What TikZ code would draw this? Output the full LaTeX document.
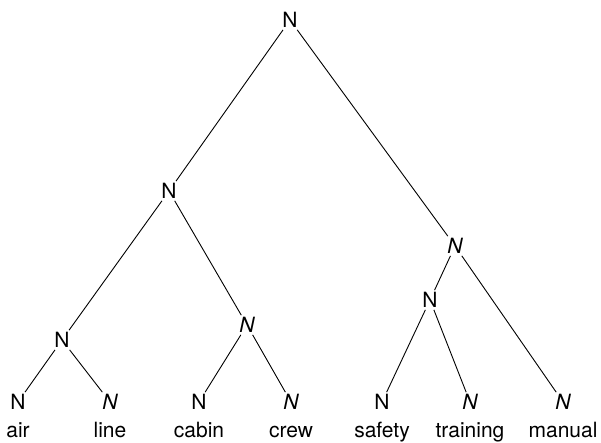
\documentclass[tikz,border=0pt]{standalone}
\usepackage{fontspec}
\setmainfont{TeX Gyre Heros}
\begin{document}
\begin{tikzpicture}[x=1pt,y=-1pt,
  lab/.style={inner sep=2pt, font=\fontsize{21}{25}\selectfont},
  word/.style={inner sep=0pt, anchor=base, font=\fontsize{21}{25}\selectfont},
  edge/.style={draw=black, line width=0.9pt}]
\useasboundingbox (0,0) rectangle (601,442);
\node[lab] (root) at (290,20) {N};
\node[lab] (l2) at (169,191) {N};
\node[lab] (r2) at (455,246) {\itshape N};
\node[lab] (l3a) at (62,340) {N};
\node[lab] (l3b) at (247,325) {\itshape N};
\node[lab] (r3) at (430,300) {N};
\node[lab] (nair) at (18,402) {N};
\node[lab] (nline) at (110,402) {\itshape N};
\node[lab] (ncabin) at (199,402) {N};
\node[lab] (ncrew) at (291,402) {\itshape N};
\node[lab] (nsafety) at (382,402) {N};
\node[lab] (ntraining) at (470,402) {\itshape N};
\node[lab] (nmanual) at (563,402) {\itshape N};
\node[word] (wair) at (18,437) {air};
\node[word] (wline) at (110,437) {line};
\node[word] (wcabin) at (199,437) {cabin};
\node[word] (wcrew) at (291,437) {crew};
\node[word] (wsafety) at (382,437) {safety};
\node[word] (wtraining) at (470,437) {training};
\node[word] (wmanual) at (563,437) {manual};
\draw[edge] (root) -- (l2);
\draw[edge] (root) -- (r2);
\draw[edge] (l2) -- (l3a);
\draw[edge] (l2) -- (l3b);
\draw[edge] (r2) -- (r3);
\draw[edge] (r2) -- (nmanual);
\draw[edge] (l3a) -- (nair);
\draw[edge] (l3a) -- (nline);
\draw[edge] (l3b) -- (ncabin);
\draw[edge] (l3b) -- (ncrew);
\draw[edge] (r3) -- (nsafety);
\draw[edge] (r3) -- (ntraining);
\end{tikzpicture}
\end{document}
